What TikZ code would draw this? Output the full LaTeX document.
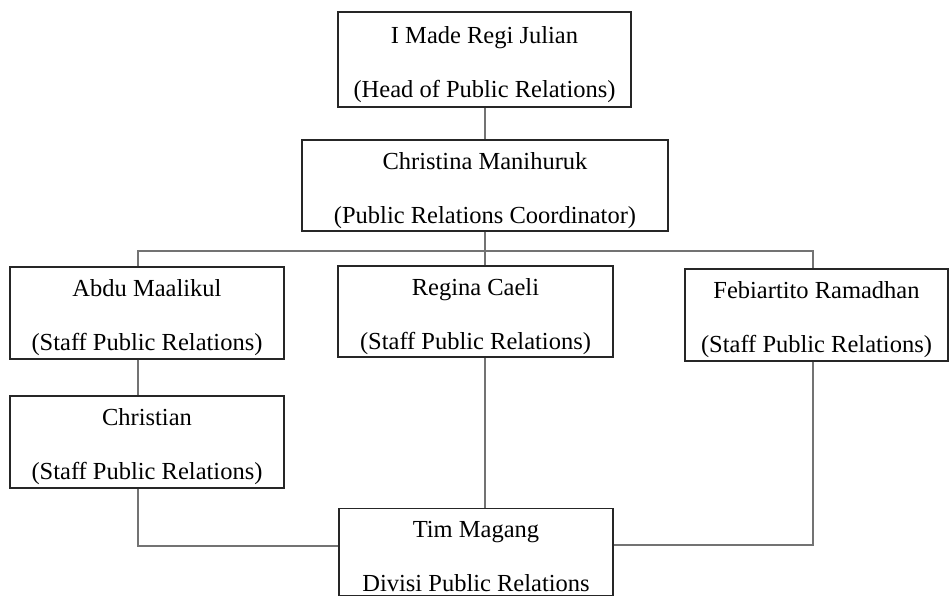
\documentclass[tikz,border=0pt]{standalone}
\usepackage{fontspec}
\setmainfont{Liberation Serif}
\newcommand{\toplift}{\rule{0pt}{27pt}}
\begin{document}
\begin{tikzpicture}[x=1pt,y=-1pt,
  box/.style={draw=black!85,line width=1.3pt,fill=white,inner sep=0pt,align=center,
    font=\fontsize{24.5}{54}\selectfont},
  conn/.style={draw=black!55,line width=2.2pt}]
\useasboundingbox (0,0) rectangle (950,597);
\node[box,minimum width=293pt,minimum height=95pt] (head) at (484.5,59.5) {\toplift I Made Regi Julian\\(Head of Public Relations)};
\node[box,minimum width=366pt,minimum height=91pt] (coord) at (485,185.5) {\toplift Christina Manihuruk\\(Public Relations Coordinator)};
\node[box,minimum width=274pt,minimum height=92pt] (abdu) at (147,313) {\toplift Abdu Maalikul\\(Staff Public Relations)};
\node[box,minimum width=275pt,minimum height=91pt] (regina) at (475.5,311.5) {\toplift Regina Caeli\\(Staff Public Relations)};
\node[box,minimum width=263pt,minimum height=92pt] (febi) at (816.5,315) {\toplift Febiartito Ramadhan\\(Staff Public Relations)};
\node[box,minimum width=274pt,minimum height=92pt] (chris) at (147,442) {\toplift Christian\\(Staff Public Relations)};
\node[box,minimum width=274pt,minimum height=87pt] (tim) at (476,552) {\rule{0pt}{25pt}Tim Magang\\Divisi Public Relations};
\coordinate (bus) at (485,251);
\coordinate (lx) at (138,546);
\coordinate (rx) at (813,545);
\draw[conn] (head.south -| bus) -- (coord.north -| bus);
\draw[conn] (coord.south -| bus) -- (bus);
\draw[conn] (abdu.north -| lx) |- (bus) -| (febi.north -| rx);
\draw[conn] (bus) -- (regina.north -| bus);
\draw[conn] (abdu.south -| lx) -- (chris.north -| lx);
\draw[conn] (chris.south -| lx) -- (lx) -- (tim.west |- lx);
\draw[conn] (regina.south -| bus) -- (tim.north -| bus);
\draw[conn] (febi.south -| rx) -- (rx) -- (tim.east |- rx);
\end{tikzpicture}
\end{document}
